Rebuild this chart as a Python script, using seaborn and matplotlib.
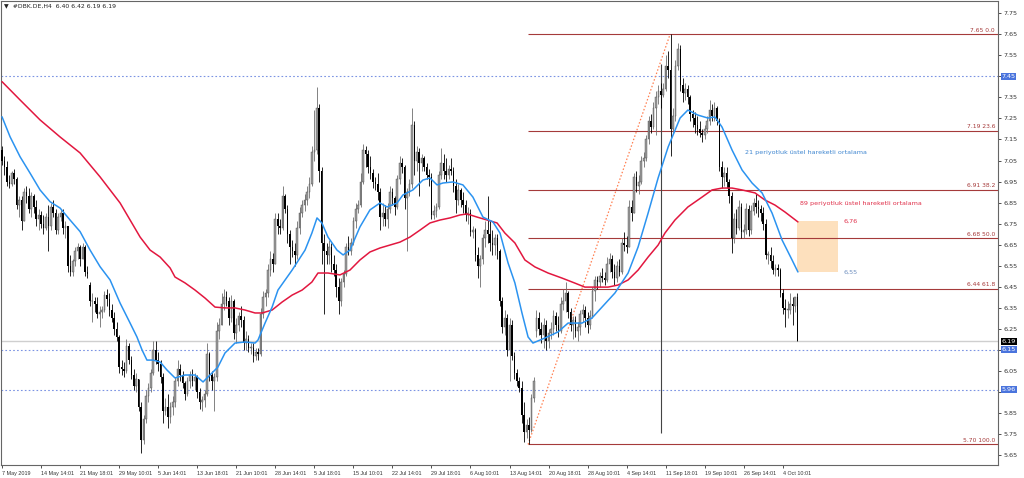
import numpy as np
import pandas as pd
import matplotlib
matplotlib.use("Agg")
import matplotlib.pyplot as plt
from matplotlib.patches import Rectangle
import seaborn as sns

# H4 candles of #DBK.DE, 7 May 2019 .. 8 Oct 2019
first_open = 7.10
gap_opens = {36: 6.46, 219: 6.24}

highs = [
    7.12, 7.07, 7.05, 6.98, 7.00, 7.01, 6.97, 6.88, 6.88, 6.92,
    6.93, 6.92, 6.90, 6.89, 6.86, 6.82, 6.81, 6.79, 6.80, 6.84,
    6.85, 6.86, 6.82, 6.80, 6.82, 6.82, 6.76, 6.74, 6.60, 6.58,
    6.64, 6.66, 6.65, 6.66, 6.65, 6.55, 6.47, 6.42, 6.40, 6.40,
    6.36, 6.36, 6.43, 6.44, 6.42, 6.37, 6.33, 6.28, 6.22, 6.10,
    6.09, 6.20, 6.18, 6.12, 6.06, 6.04, 6.01, 5.90, 5.84, 5.96,
    5.99, 6.06, 6.19, 6.19, 6.14, 6.10, 6.04, 5.92, 5.94, 5.90,
    5.93, 6.02, 6.10, 6.08, 6.05, 6.00, 6.02, 6.05, 6.06, 6.04,
    6.03, 5.97, 5.93, 5.96, 6.18, 6.14, 6.05, 6.04, 6.28, 6.30,
    6.42, 6.44, 6.43, 6.40, 6.41, 6.39, 6.30, 6.33, 6.36, 6.31,
    6.24, 6.22, 6.18, 6.18, 6.16, 6.16, 6.35, 6.43, 6.44, 6.56,
    6.62, 6.61, 6.80, 6.80, 6.77, 6.93, 6.89, 6.84, 6.72, 6.67,
    6.66, 6.76, 6.83, 6.86, 6.89, 6.93, 6.97, 7.12, 7.29, 7.40,
    7.32, 7.02, 6.70, 6.66, 6.67, 6.66, 6.60, 6.56, 6.49, 6.49,
    6.53, 6.66, 6.69, 6.68, 6.78, 6.85, 6.86, 6.99, 7.13, 7.12,
    7.10, 7.07, 7.01, 6.97, 6.99, 6.92, 6.85, 6.84, 6.85, 6.93,
    6.92, 6.88, 6.98, 7.07, 7.06, 7.03, 6.92, 6.96, 7.30, 7.24,
    7.12, 7.11, 7.08, 7.07, 7.04, 7.01, 6.99, 6.84, 6.85, 7.00,
    7.11, 7.08, 7.06, 7.03, 7.06, 7.02, 6.96, 6.94, 6.92, 6.90,
    6.86, 6.83, 6.82, 6.74, 6.73, 6.64, 6.60, 6.70, 6.76, 6.88,
    6.76, 6.72, 6.70, 6.70, 6.63, 6.40, 6.34, 6.32, 6.30, 6.29,
    6.14, 6.06, 6.02, 6.00, 5.90, 5.82, 5.83, 5.94, 6.02, 6.34,
    6.33, 6.28, 6.30, 6.29, 6.25, 6.28, 6.34, 6.33, 6.31, 6.40,
    6.44, 6.47, 6.43, 6.35, 6.31, 6.31, 6.28, 6.34, 6.37, 6.36,
    6.33, 6.34, 6.45, 6.50, 6.50, 6.52, 6.54, 6.52, 6.59, 6.61,
    6.60, 6.56, 6.57, 6.58, 6.68, 6.71, 6.69, 6.86, 6.86, 6.99,
    7.00, 6.98, 7.07, 7.09, 7.17, 7.26, 7.27, 7.33, 7.38, 7.41,
    7.42, 7.42, 7.55, 7.57, 7.65, 7.30, 7.53, 7.61, 7.60, 7.44,
    7.42, 7.41, 7.36, 7.29, 7.28, 7.26, 7.24, 7.20, 7.22, 7.26,
    7.34, 7.32, 7.33, 7.31, 7.25, 7.05, 7.02, 7.02, 6.96, 6.90,
    6.80, 6.82, 6.86, 6.85, 6.75, 6.85, 6.84, 6.84, 6.87, 6.89,
    6.86, 6.84, 6.83, 6.77, 6.62, 6.64, 6.60, 6.56, 6.56, 6.54,
    6.44, 6.39, 6.38, 6.42, 6.40, 6.40, 6.42,
]

lows = [
    7.03, 6.98, 6.93, 6.92, 6.93, 6.94, 6.82, 6.78, 6.72, 6.76,
    6.85, 6.80, 6.78, 6.80, 6.74, 6.72, 6.73, 6.70, 6.72, 6.62,
    6.72, 6.78, 6.70, 6.70, 6.76, 6.70, 6.68, 6.52, 6.50, 6.50,
    6.55, 6.58, 6.55, 6.58, 6.50, 6.49, 6.36, 6.28, 6.33, 6.30,
    6.26, 6.30, 6.33, 6.36, 6.31, 6.28, 6.22, 6.19, 6.04, 6.03,
    6.02, 6.04, 6.08, 6.01, 5.96, 5.95, 5.86, 5.66, 5.70, 5.80,
    5.90, 5.95, 6.03, 6.08, 6.05, 5.99, 5.80, 5.84, 5.78, 5.80,
    5.84, 5.88, 5.98, 6.00, 5.97, 5.91, 5.93, 5.97, 5.98, 5.96,
    5.92, 5.87, 5.86, 5.88, 5.93, 6.00, 5.96, 5.86, 6.00, 6.20,
    6.27, 6.34, 6.36, 6.27, 6.28, 6.20, 6.18, 6.24, 6.26, 6.15,
    6.15, 6.14, 6.13, 6.09, 6.10, 6.10, 6.12, 6.30, 6.36, 6.40,
    6.50, 6.52, 6.56, 6.70, 6.70, 6.72, 6.80, 6.66, 6.56, 6.59,
    6.55, 6.58, 6.70, 6.78, 6.81, 6.84, 6.87, 6.93, 7.05, 7.08,
    6.95, 6.56, 6.32, 6.56, 6.56, 6.52, 6.50, 6.40, 6.32, 6.36,
    6.45, 6.50, 6.60, 6.60, 6.65, 6.73, 6.80, 6.83, 6.94, 7.02,
    6.99, 6.96, 6.92, 6.91, 6.86, 6.72, 6.74, 6.74, 6.73, 6.80,
    6.84, 6.79, 6.82, 6.94, 6.99, 6.82, 6.62, 6.88, 6.92, 6.98,
    7.00, 6.88, 7.00, 7.00, 6.96, 6.93, 6.77, 6.77, 6.78, 6.82,
    6.96, 6.96, 6.95, 6.96, 6.98, 6.90, 6.80, 6.84, 6.83, 6.80,
    6.76, 6.75, 6.69, 6.68, 6.57, 6.49, 6.45, 6.56, 6.64, 6.66,
    6.62, 6.60, 6.60, 6.58, 6.36, 6.23, 6.22, 6.12, 6.00, 6.10,
    6.01, 5.98, 5.95, 5.80, 5.71, 5.73, 5.70, 5.76, 5.90, 6.21,
    6.22, 6.18, 6.16, 6.15, 6.16, 6.20, 6.22, 6.24, 6.21, 6.23,
    6.34, 6.33, 6.30, 6.24, 6.20, 6.21, 6.19, 6.22, 6.28, 6.26,
    6.23, 6.25, 6.30, 6.38, 6.44, 6.45, 6.47, 6.46, 6.47, 6.52,
    6.49, 6.46, 6.47, 6.50, 6.51, 6.62, 6.61, 6.64, 6.76, 6.80,
    6.90, 6.89, 6.94, 7.02, 7.05, 7.13, 7.18, 7.20, 7.17, 7.32,
    7.30, 7.35, 7.38, 7.44, 7.07, 7.18, 7.24, 7.48, 7.38, 7.33,
    7.34, 7.32, 7.24, 7.21, 7.18, 7.17, 7.16, 7.14, 7.15, 7.18,
    7.22, 7.24, 7.24, 7.22, 7.00, 6.92, 6.93, 6.92, 6.85, 6.61,
    6.66, 6.70, 6.72, 6.68, 6.68, 6.70, 6.69, 6.70, 6.79, 6.80,
    6.78, 6.76, 6.72, 6.58, 6.56, 6.54, 6.51, 6.50, 6.50, 6.40,
    6.32, 6.26, 6.30, 6.32, 6.27, 6.33, 6.19,
]

closes = [
    7.05, 7.02, 6.95, 6.94, 6.99, 6.96, 6.84, 6.86, 6.76, 6.90,
    6.88, 6.82, 6.88, 6.83, 6.77, 6.79, 6.75, 6.73, 6.78, 6.74,
    6.83, 6.80, 6.72, 6.78, 6.80, 6.73, 6.74, 6.55, 6.52, 6.57,
    6.62, 6.64, 6.58, 6.64, 6.52, 6.51, 6.38, 6.38, 6.37, 6.32,
    6.33, 6.34, 6.41, 6.39, 6.34, 6.30, 6.25, 6.21, 6.07, 6.06,
    6.05, 6.17, 6.10, 6.03, 5.98, 6.01, 5.88, 5.72, 5.82, 5.93,
    5.97, 6.04, 6.15, 6.10, 6.08, 6.02, 5.86, 5.88, 5.83, 5.88,
    5.90, 6.00, 6.06, 6.03, 5.99, 5.94, 6.00, 6.03, 6.00, 6.02,
    5.95, 5.90, 5.91, 5.94, 6.13, 6.03, 6.00, 6.02, 6.24, 6.27,
    6.37, 6.40, 6.38, 6.30, 6.38, 6.23, 6.27, 6.31, 6.29, 6.18,
    6.20, 6.16, 6.16, 6.12, 6.14, 6.13, 6.32, 6.40, 6.42, 6.53,
    6.58, 6.56, 6.77, 6.74, 6.73, 6.88, 6.82, 6.70, 6.64, 6.62,
    6.60, 6.73, 6.80, 6.84, 6.86, 6.90, 6.94, 7.09, 7.10, 7.30,
    7.00, 6.66, 6.62, 6.60, 6.64, 6.56, 6.53, 6.45, 6.38, 6.47,
    6.51, 6.64, 6.62, 6.66, 6.76, 6.82, 6.84, 6.95, 7.10, 7.08,
    7.02, 6.99, 6.95, 6.94, 6.90, 6.78, 6.80, 6.77, 6.82, 6.90,
    6.87, 6.83, 6.96, 7.04, 7.02, 6.87, 6.90, 6.94, 7.22, 7.05,
    7.09, 7.04, 7.06, 7.02, 6.98, 6.97, 6.79, 6.81, 6.83, 6.98,
    7.04, 7.00, 6.98, 7.01, 7.00, 6.93, 6.86, 6.91, 6.86, 6.84,
    6.79, 6.80, 6.71, 6.72, 6.60, 6.55, 6.58, 6.68, 6.72, 6.70,
    6.66, 6.65, 6.68, 6.62, 6.38, 6.26, 6.30, 6.15, 6.27, 6.12,
    6.04, 6.00, 5.97, 5.84, 5.76, 5.79, 5.77, 5.92, 6.00, 6.30,
    6.25, 6.22, 6.27, 6.19, 6.23, 6.25, 6.31, 6.27, 6.24, 6.37,
    6.38, 6.42, 6.33, 6.27, 6.29, 6.24, 6.26, 6.32, 6.34, 6.30,
    6.27, 6.31, 6.43, 6.48, 6.47, 6.50, 6.49, 6.48, 6.56, 6.58,
    6.52, 6.49, 6.55, 6.52, 6.66, 6.65, 6.64, 6.83, 6.80, 6.97,
    6.93, 6.95, 7.05, 7.06, 7.15, 7.24, 7.21, 7.30, 7.35, 7.38,
    7.36, 7.39, 7.50, 7.48, 7.20, 7.26, 7.50, 7.58, 7.41, 7.37,
    7.39, 7.35, 7.27, 7.25, 7.22, 7.20, 7.18, 7.17, 7.20, 7.24,
    7.29, 7.26, 7.30, 7.24, 7.02, 6.97, 6.99, 6.95, 6.88, 6.68,
    6.77, 6.73, 6.83, 6.71, 6.72, 6.82, 6.72, 6.81, 6.85, 6.83,
    6.82, 6.80, 6.75, 6.60, 6.60, 6.57, 6.53, 6.54, 6.53, 6.42,
    6.35, 6.34, 6.34, 6.37, 6.36, 6.40, 6.19,
]

# 21 EMA as drawn by the terminal (bar, value)
ema21_bar = [0, 3.3, 7.4, 11.5, 15.6, 19.7, 23.8, 27.9, 32.0, 36.1, 40.2, 44.3,
             48.4, 52.5, 55.3, 57.4, 59.4, 61.9, 64.8, 67.6, 70.9, 75.0, 79.1,
             82.4, 86.1, 88.5, 91.4, 95.5, 99.6, 103.7, 104.9, 107.8, 110.7,
             113.1, 118.9, 124.2, 127.0, 129.1, 131.1, 133.6, 137.3, 139.8,
             142.6, 146.7, 150.8, 154.9, 157.8, 161.9, 164.3, 168.4, 172.5,
             175.4, 178.3, 180.7, 184.8, 188.9, 193.0, 197.1, 201.2, 204.1,
             207.4, 210.2, 213.1, 215.6, 217.6, 222.5, 227.9, 232.0, 237.7,
             241.8, 245.9, 251.2, 256.6, 260.7, 264.8, 268.9, 273.0, 277.9,
             281.1, 285.2, 289.3, 292.2, 295.1, 299.2, 303.3, 307.4, 311.5,
             315.6, 319.7, 323.8, 326.2]
ema21_val = [7.258, 7.163, 7.068, 6.990, 6.910, 6.854, 6.824, 6.767, 6.712,
             6.624, 6.545, 6.482, 6.372, 6.277, 6.211, 6.149, 6.101, 6.101,
             6.092, 6.054, 6.016, 6.030, 6.030, 5.997, 6.040, 6.068, 6.135,
             6.182, 6.187, 6.182, 6.196, 6.277, 6.353, 6.434, 6.529, 6.624,
             6.705, 6.777, 6.753, 6.686, 6.624, 6.601, 6.624, 6.734, 6.815,
             6.848, 6.829, 6.848, 6.886, 6.910, 6.957, 6.967, 6.934, 6.943,
             6.948, 6.934, 6.876, 6.781, 6.758, 6.705, 6.563, 6.468, 6.325,
             6.211, 6.182, 6.206, 6.235, 6.277, 6.277, 6.301, 6.353, 6.420,
             6.515, 6.639, 6.800, 6.967, 7.114, 7.252, 7.290, 7.266, 7.252,
             7.257, 7.209, 7.100, 7.005, 6.943, 6.896, 6.800, 6.672, 6.577,
             6.520]

# 89 EMA as drawn by the terminal (bar, value)
ema89_bar = [0, 7.4, 15.6, 23.8, 32.0, 40.2, 48.4, 56.6, 60.7, 64.8, 68.9,
             70.9, 75.0, 79.1, 83.2, 87.3, 91.4, 95.5, 99.6, 103.7, 106.6,
             110.7, 114.8, 118.9, 123.0, 127.0, 129.5, 133.6, 138.5, 142.6,
             146.7, 150.8, 154.9, 159.0, 163.1, 167.2, 171.3, 175.4, 179.5,
             183.6, 187.7, 190.6, 194.7, 198.8, 202.9, 206.1, 210.2, 214.3,
             218.4, 223.8, 229.5, 234.8, 238.9, 243.0, 248.4, 252.5, 256.6,
             260.7, 264.8, 268.9, 271.7, 275.8, 281.1, 286.9, 291.0, 295.1,
             299.2, 303.3, 308.6, 312.7, 316.8, 320.9, 326.2]
ema89_val = [7.425, 7.338, 7.243, 7.162, 7.086, 6.972, 6.848, 6.686, 6.624,
             6.591, 6.539, 6.496, 6.468, 6.434, 6.396, 6.353, 6.349, 6.349,
             6.339, 6.325, 6.325, 6.339, 6.377, 6.410, 6.434, 6.472, 6.515,
             6.515, 6.506, 6.529, 6.577, 6.615, 6.634, 6.648, 6.662, 6.686,
             6.719, 6.753, 6.767, 6.777, 6.791, 6.796, 6.781, 6.767, 6.753,
             6.705, 6.658, 6.577, 6.544, 6.515, 6.491, 6.467, 6.448, 6.448,
             6.448, 6.458, 6.482, 6.529, 6.591, 6.648, 6.705, 6.767, 6.829,
             6.876, 6.910, 6.919, 6.919, 6.910, 6.896, 6.862, 6.838, 6.805,
             6.758]

date_labels = [
    "7 May 2019", "14 May 14:01", "21 May 18:01", "29 May 10:01", "5 Jun 14:01",
    "13 Jun 18:01", "21 Jun 10:01", "28 Jun 14:01", "5 Jul 18:01", "15 Jul 10:01",
    "22 Jul 14:01", "29 Jul 18:01", "6 Aug 10:01", "13 Aug 14:01", "20 Aug 18:01",
    "28 Aug 10:01", "4 Sep 14:01", "11 Sep 18:01", "19 Sep 10:01", "26 Sep 14:01",
    "4 Oct 10:01",
]

fib_levels = [7.65, 7.19, 6.91, 6.68, 6.44, 5.70]
fib_pcts = ["0.0", "23.6", "38.2", "50.0", "61.8", "100.0"]
alert_levels = [7.45, 6.15, 5.96]
bid_price = 6.19
box_top, box_bottom = 6.76, 6.52

df = pd.DataFrame({"high": highs, "low": lows, "close": closes})
df["bar"] = np.arange(len(df))
opens = [first_open] + closes[:-1]
for k, v in gap_opens.items():
    opens[k] = v
df["open"] = opens

sns.set_style("white")
plt.rcParams["font.family"] = ["DejaVu Sans"]

fig = plt.figure(figsize=(10.24, 4.78), dpi=100)
ax = fig.add_axes([1 / 1024, 13 / 478, 997 / 1024, 464 / 478])

px_per_bar = 2.44
ax.set_xlim(-1 / px_per_bar, 996 / px_per_bar)
ax.set_ylim(5.6021, 7.8085)

# candles
up = df["close"] >= df["open"]
hi = np.maximum(df["high"], np.maximum(df["open"], df["close"]))
lo = np.minimum(df["low"], np.minimum(df["open"], df["close"]))
ax.vlines(df["bar"][up], lo[up], hi[up], color="#6e6e6e", lw=0.6, zorder=3)
ax.vlines(df["bar"][~up], lo[~up], hi[~up], color="black", lw=0.6, zorder=3)
body_lo = np.minimum(df["open"], df["close"])
body_h = np.maximum((df["close"] - df["open"]).abs(), 0.004)
ax.bar(df["bar"][up], body_h[up], bottom=body_lo[up], width=0.65,
       color="#9d9d9d", edgecolor="#4d4d4d", linewidth=0.3, zorder=4)
ax.bar(df["bar"][~up], body_h[~up], bottom=body_lo[~up], width=0.65,
       color="black", linewidth=0, zorder=4)

# moving averages
sns.lineplot(x=ema89_bar, y=ema89_val, color="#e2173f", lw=1.1, ax=ax, zorder=5)
sns.lineplot(x=ema21_bar, y=ema21_val, color="#2b93f0", lw=1.1, ax=ax, zorder=5)

# fibonacci retracement
fib_x0 = 215.6
x_right = 996 / px_per_bar
for lvl, pct in zip(fib_levels, fib_pcts):
    ax.hlines(lvl, fib_x0, x_right, color="#a53a3a", lw=0.8, zorder=2)
    ax.text(x_right - 1.2, lvl + 0.008, f"{lvl:.2f} {pct}", color="#a53a3a",
            fontsize=4.3, ha="right", va="bottom", zorder=6)
ax.plot([fib_x0, 273.8], [fib_levels[-1], fib_levels[0]], color="#ff7f50",
        ls=(0, (1.2, 1.6)), lw=0.9, zorder=2)

# vertical marker
ax.vlines(270, 5.754, 7.51, color="#444444", lw=0.8, zorder=2)

# alert lines + bid line
for lvl in alert_levels:
    ax.axhline(lvl, color="#7b93e3", lw=0.8, ls=(0, (1.5, 2)), zorder=1)
ax.axhline(bid_price, color="#cfcfcf", lw=1.0, zorder=1)

# target box
ax.add_patch(Rectangle((326, box_bottom), 342.6 - 326, box_top - box_bottom,
                       facecolor="#fde0bd", edgecolor="none", zorder=1))
ax.text(344.7, box_top, "6,76", color="#e0304a", fontsize=4.6, va="center")
ax.text(344.7, box_bottom, "6,55", color="#6f8fbf", fontsize=4.6, va="center")

ax.text(304.5, 7.09, "21 periyotluk üstel hareketli ortalama", color="#3f86d0",
        fontsize=4.6, va="center")
ax.text(327, 6.845, "89 periyotluk üstel hareketli ortalama", color="#e0304a",
        fontsize=4.6, va="center")

# axes styling (MT4-like)
ax.set_xlabel("")
ax.set_ylabel("")
ax.yaxis.tick_right()
yt = np.round(np.arange(5.65, 7.76, 0.1), 2)
hidden = {7.45, 6.15, 5.95}
ax.set_yticks(yt)
ax.set_yticklabels(["" if v in hidden else f"{v:.2f}" for v in yt])
ax.set_xticks(np.arange(len(date_labels)) * 16)
ax.set_xticklabels(date_labels, ha="left", family="Liberation Sans")
ax.tick_params(axis="y", right=True, length=2.5, width=0.6, pad=1.5,
               labelsize=4.6, colors="#333333")
ax.tick_params(axis="x", bottom=True, length=2.5, width=0.6, pad=2,
               labelsize=3.9, colors="#333333")
for s in ax.spines.values():
    s.set_color("#666666")
    s.set_linewidth(0.8)

# price tags on the axis
tag = dict(fontsize=4.6, ha="left", va="center", transform=ax.get_yaxis_transform(),
           clip_on=False, zorder=10)
for lvl in alert_levels:
    ax.text(1.0035, lvl, f"{lvl:.2f}", color="white",
            bbox=dict(boxstyle="square,pad=0.15", fc="#4a74dd", ec="none"), **tag)
ax.text(1.0035, bid_price, f"{bid_price:.2f}", color="white",
        bbox=dict(boxstyle="square,pad=0.15", fc="black", ec="none"), **tag)

fig.text(4 / 1024, 1 - 6 / 478, "\u25bc  #DBK.DE,H4  6.40 6.42 6.19 6.19",
         fontsize=4.4, va="center", ha="left", color="#222222")

fig.savefig("out.png", dpi=100)
